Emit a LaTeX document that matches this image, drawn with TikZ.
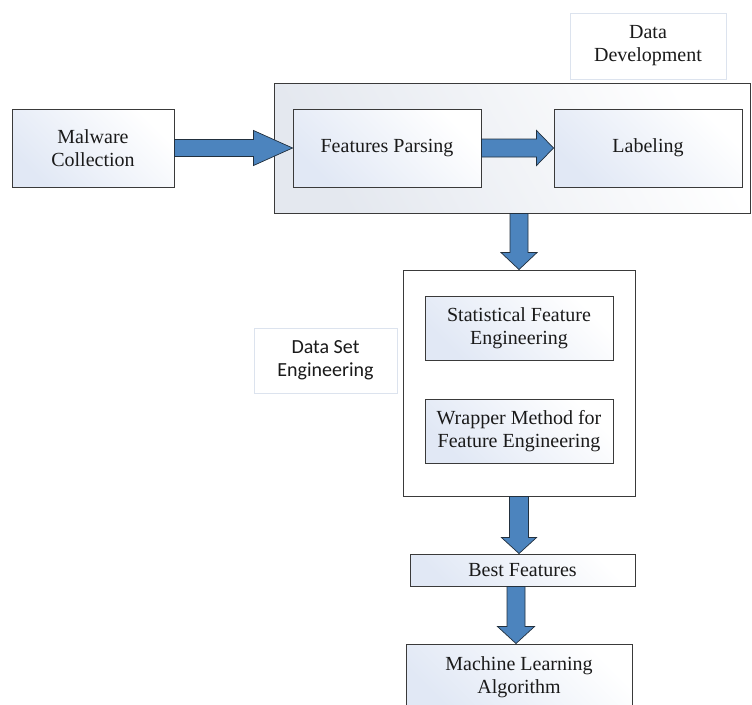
\documentclass[tikz,border=0pt]{standalone}
\usepackage{fontspec}
\setmainfont{Liberation Serif}
\newfontfamily\calib{Carlito}
\usetikzlibrary{calc}
\definecolor{gradblue}{HTML}{E1E8F5}
\definecolor{contgray}{HTML}{E4E8EF}
\definecolor{boxline}{HTML}{3A3A3A}
\definecolor{lightline}{HTML}{DCE3EE}
\definecolor{arrowfill}{HTML}{4C84BE}
\definecolor{arrowline}{HTML}{22303E}
\definecolor{txt}{HTML}{1A1A1A}
\tikzset{
  every node/.style={font=\fontsize{20}{23}\selectfont, text=txt, align=center, inner sep=0pt},
  gbox/.style={draw=boxline, line width=0.9pt, left color=gradblue, right color=white, shading angle=135},
  plainbox/.style={draw=boxline, line width=0.9pt, fill=white},
  contbox/.style={draw=boxline, line width=0.9pt, left color=contgray, right color=white, shading angle=120},
  labbox/.style={draw=lightline, line width=0.8pt, fill=white},
  blockarrow/.style={fill=arrowfill, draw=arrowline, line width=0.7pt, line join=miter},
}
\newcommand{\harrow}[5]{%
  \path[blockarrow] ($(#1)+(0,-#3)$) -- ($(#2)+(-#5,-#3)$) -- ($(#2)+(-#5,-#4)$) -- (#2)
    -- ($(#2)+(-#5,#4)$) -- ($(#2)+(-#5,#3)$) -- ($(#1)+(0,#3)$) -- cycle;}
\newcommand{\varrow}[5]{%
  \path[blockarrow] ($(#1)+(-#3,0)$) -- ($(#2)+(-#3,-#5)$) -- ($(#2)+(-#4,-#5)$) -- (#2)
    -- ($(#2)+(#4,-#5)$) -- ($(#2)+(#3,-#5)$) -- ($(#1)+(#3,0)$) -- cycle;}
\begin{document}
\begin{tikzpicture}[x=1pt, y=-1pt]
\clip (0,0) rectangle (752,704);
\fill[white] (0,0) rectangle (752,704);
% labels
\node[labbox, minimum width=156pt, minimum height=66pt] (ddlab) at (648,46) {Data\\Development};
\node[labbox, minimum width=143pt, minimum height=65pt, font=\calib\fontsize{20}{23}\selectfont] (dselab) at (325.5,360.5) {Data Set\\Engineering};
% data development container
\node[contbox, minimum width=476pt, minimum height=130pt] (cont) at (512,148) {};
\node[gbox, minimum width=162pt, minimum height=78pt] (mal) at (93,148) {Malware\\Collection};
\node[gbox, minimum width=188pt, minimum height=78pt] (fp) at (387,148) {\raisebox{-2pt}{Features Parsing}};
\node[gbox, minimum width=188pt, minimum height=78pt] (lab) at (648,148) {\raisebox{-2pt}{Labeling}};
% data set engineering
\node[plainbox, minimum width=232pt, minimum height=226pt] (dse) at (519,383) {};
\node[gbox, minimum width=188pt, minimum height=64pt] (sfe) at (519,328) {Statistical Feature\\Engineering};
\node[gbox, minimum width=188pt, minimum height=64pt] (wm) at (519,431) {Wrapper Method for\\Feature Engineering};
\node[gbox, minimum width=225pt, minimum height=32pt] (bf) at (522.5,570) {Best Features};
\node[gbox, minimum width=226pt, minimum height=66pt] (ml) at (519,677) {Machine Learning\\Algorithm};
% arrows
\harrow{mal.east}{fp.west}{8.5}{17.5}{39}
\harrow{fp.east}{lab.west}{9}{17.5}{17}
\coordinate (a3s) at (cont.south -| dse.north);
\varrow{a3s}{dse.north}{9}{18}{17}
\coordinate (a4e) at (bf.north -| dse.south);
\varrow{dse.south}{a4e}{9.5}{17.5}{16}
\coordinate (a5s) at ($(bf.south)+(-6.5,0)$);
\coordinate (a5e) at (ml.north -| a5s);
\varrow{a5s}{a5e}{9}{18.5}{17}
\end{tikzpicture}
\end{document}
